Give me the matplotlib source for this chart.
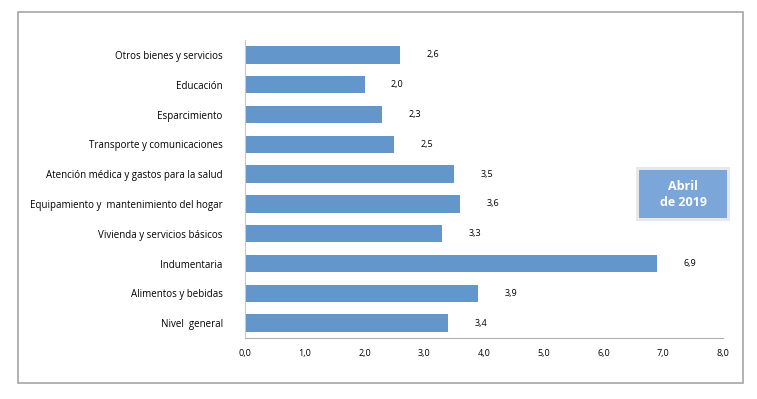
import matplotlib.pyplot as plt
from matplotlib.patches import Rectangle

categorias = ["Nivel  general", "Alimentos y bebidas", "Indumentaria",
              "Vivienda y servicios básicos",
              "Equipamiento y  mantenimiento del hogar",
              "Atención médica y gastos para la salud",
              "Transporte y comunicaciones", "Esparcimiento", "Educación",
              "Otros bienes y servicios"]
valores = [3.4, 3.9, 6.9, 3.3, 3.6, 3.5, 2.5, 2.3, 2.0, 2.6]
xticks = [0, 1, 2, 3, 4, 5, 6, 7, 8]

plt.rcParams['font.family'] = ['Open Sans', 'DejaVu Sans']

fig = plt.figure(figsize=(7.57, 3.99), dpi=100)
ax = fig.add_axes([245 / 757, 1 - 338 / 399, 478 / 757, 298 / 399])

y = range(len(categorias))
ax.barh(y, valores, height=0.58, color='#6396CA')
for yi, v in zip(y, valores):
    ax.annotate(f"{v:.1f}".replace('.', ','), (v, yi), xytext=(19, 0),
                textcoords='offset points', ha='left', va='center', fontsize=6.5)

ax.set_xlim(0, 8)
ax.set_ylim(-0.5, len(categorias) - 0.5)
ax.set_xticks(xticks)
ax.set_xticklabels([f"{t:.1f}".replace('.', ',') for t in xticks], fontsize=6.5)
ax.set_yticks(list(y))
ax.set_yticklabels(categorias, fontsize=7)
ax.tick_params(length=0, pad=16)
ax.tick_params(axis='x', pad=8)
for s in ['top', 'right']:
    ax.spines[s].set_visible(False)
ax.spines['left'].set_color('#c8c8c8')
ax.spines['bottom'].set_color('#b0b0b0')

# outer frame
fig.patches.append(Rectangle((18 / 757, 1 - 383 / 399), 725 / 757, 371 / 399,
                             transform=fig.transFigure, fill=False,
                             edgecolor='#a6a6a6', linewidth=1.2))

# date box
fig.patches.append(Rectangle((636 / 757, 1 - 221 / 399), 94 / 757, 54 / 399,
                             transform=fig.transFigure, facecolor='#e8e8e8',
                             edgecolor='none'))
fig.patches.append(Rectangle((639 / 757, 1 - 218 / 399), 88 / 757, 48 / 399,
                             transform=fig.transFigure, facecolor='#7BA6DA',
                             edgecolor='none'))
fig.text(683 / 757, 1 - 194 / 399, "Abril\nde 2019", ha='center', va='center',
         color='white', fontsize=9, fontweight='bold', linespacing=1.3)

fig.savefig('out.png', dpi=100)
